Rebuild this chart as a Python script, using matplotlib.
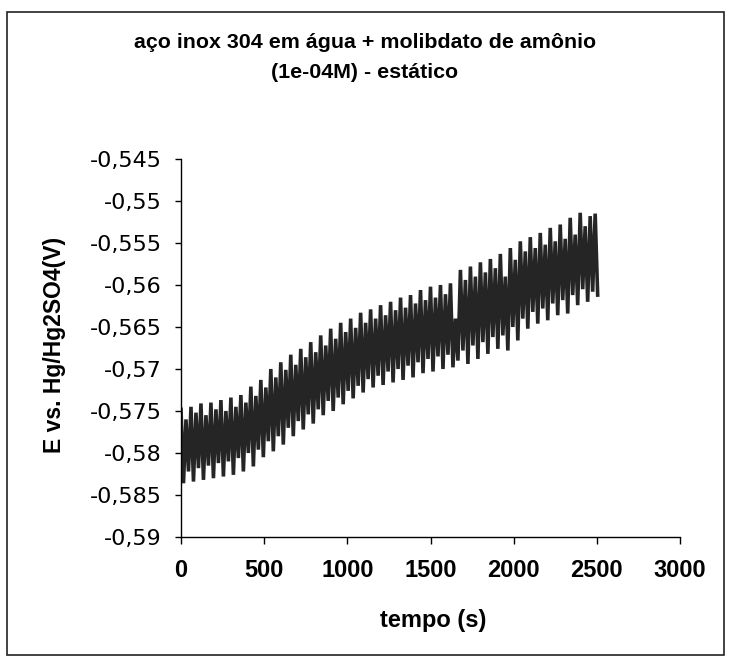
import numpy as np
import matplotlib
matplotlib.use("Agg")
import matplotlib.pyplot as plt
from matplotlib.patches import Rectangle

plt.rcParams['font.family'] = ['Liberation Sans', 'DejaVu Sans']

# potential readings: upper peaks every 30 s, lower peaks in between
t_top = np.arange(0, 2500, 30)
e_top = [
    -0.5748, -0.5760, -0.5745, -0.5752, -0.5741, -0.5755, -0.5740, -0.5748,
    -0.5737, -0.5750, -0.5734, -0.5745, -0.5731, -0.5740, -0.5721, -0.5732,
    -0.5713, -0.5722, -0.5700, -0.5710, -0.5692, -0.5701, -0.5683, -0.5695,
    -0.5676, -0.5686, -0.5668, -0.5680, -0.5660, -0.5672, -0.5652, -0.5664,
    -0.5645, -0.5656, -0.5640, -0.5651, -0.5633, -0.5645, -0.5629, -0.5640,
    -0.5624, -0.5636, -0.5620, -0.5630, -0.5615, -0.5627, -0.5612, -0.5622,
    -0.5606, -0.5618, -0.5602, -0.5615, -0.5600, -0.5611, -0.5598, -0.5640,
    -0.5582, -0.5594, -0.5578, -0.5590, -0.5573, -0.5585, -0.5569, -0.5580,
    -0.5563, -0.5590, -0.5556, -0.5570, -0.5548, -0.5560, -0.5543, -0.5556,
    -0.5538, -0.5552, -0.5532, -0.5548, -0.5528, -0.5545, -0.5520, -0.5540,
    -0.5514, -0.5530, -0.5518, -0.5515,
]
t_bot = np.arange(15, 2515, 30)
e_bot = [
    -0.5836, -0.5822, -0.5834, -0.5818, -0.5832, -0.5815, -0.5830, -0.5812,
    -0.5828, -0.5810, -0.5826, -0.5806, -0.5822, -0.5800, -0.5816, -0.5796,
    -0.5805, -0.5786, -0.5798, -0.5780, -0.5790, -0.5770, -0.5780, -0.5762,
    -0.5772, -0.5754, -0.5765, -0.5748, -0.5755, -0.5738, -0.5750, -0.5734,
    -0.5742, -0.5726, -0.5735, -0.5720, -0.5728, -0.5712, -0.5722, -0.5708,
    -0.5719, -0.5703, -0.5716, -0.5700, -0.5713, -0.5696, -0.5710, -0.5692,
    -0.5705, -0.5688, -0.5703, -0.5685, -0.5700, -0.5683, -0.5698, -0.5690,
    -0.5678, -0.5694, -0.5672, -0.5688, -0.5668, -0.5682, -0.5662, -0.5676,
    -0.5660, -0.5678, -0.5650, -0.5666, -0.5640, -0.5652, -0.5632, -0.5646,
    -0.5628, -0.5642, -0.5622, -0.5636, -0.5618, -0.5634, -0.5612, -0.5624,
    -0.5605, -0.5620, -0.5608, -0.5612,
]

x_ticks = [0, 500, 1000, 1500, 2000, 2500, 3000]
y_ticks = [-0.545, -0.55, -0.555, -0.56, -0.565, -0.57, -0.575, -0.58, -0.585, -0.59]
y_labels = ['-0,545', '-0,55', '-0,555', '-0,56', '-0,565', '-0,57', '-0,575',
            '-0,58', '-0,585', '-0,59']

# interleave upper and lower peaks into one trace
t = np.empty(len(t_top) + len(t_bot))
e = np.empty_like(t)
t[0::2], t[1::2] = t_top, t_bot
e[0::2], e[1::2] = e_top, e_bot

fig = plt.figure(figsize=(7.31, 6.62), dpi=100)
W, H = 731, 662
ax = fig.add_axes([181 / W, 1 - 537 / H, 499 / W, 378 / H])

ax.plot(t, e, color='#252525', lw=2.6, solid_joinstyle='miter')

ax.set_xlim(0, 3000)
ax.set_ylim(-0.59, -0.545)
ax.set_xticks(x_ticks)
ax.set_yticks(y_ticks)
ax.set_yticklabels(y_labels, family='DejaVu Sans', fontsize=16)
ax.tick_params(axis='y', length=4, width=1, direction='out', pad=10)
ax.tick_params(axis='x', labelsize=17, length=5, width=1, direction='out', pad=11)
for s in ['top', 'right']:
    ax.spines[s].set_visible(False)
for s in ['left', 'bottom']:
    ax.spines[s].set_linewidth(1)
for lbl in ax.get_xticklabels():
    lbl.set_fontweight('bold')

fig.text(433 / W, 1 - 620 / H, 'tempo (s)', ha='center', va='center',
         fontsize=17, fontweight='bold')
fig.text(55 / W, 1 - 345 / H, 'E vs. Hg/Hg2SO4(V)', ha='center', va='center',
         rotation=90, fontsize=16.5, fontweight='bold')

fig.text(365 / W, 1 - 43 / H, 'aço inox 304 em água + molibdato de amônio',
         ha='center', va='center', fontsize=15.4, fontweight='bold')
fig.text(365 / W, 1 - 72 / H, '(1e-04M) - estático',
         ha='center', va='center', fontsize=15.4, fontweight='bold')

# chart area frame
fig.patches.append(Rectangle((7 / W, 1 - 655 / H), 717 / W, 643 / H,
                             transform=fig.transFigure, fill=False,
                             edgecolor='#222222', lw=1.2))

fig.savefig('out.png', dpi=100)
